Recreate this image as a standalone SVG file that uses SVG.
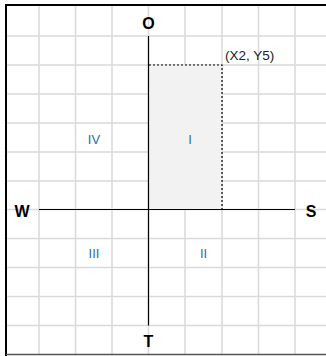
<svg xmlns="http://www.w3.org/2000/svg" width="326" height="356" viewBox="0 0 326 356">
<style>
.grid line{stroke:#d9d9d9;stroke-width:1.5}
.axis{stroke:#000;stroke-width:1.2}
.dot{stroke:#000;stroke-width:1.2;stroke-dasharray:2 2;fill:none}
.lbl{font-family:"Liberation Sans",Arial,sans-serif;font-weight:bold;font-size:16px;fill:#000;text-anchor:middle}
.q{font-family:"Liberation Sans",Arial,sans-serif;font-size:13px;fill:#2e6da4;text-anchor:middle}
.pt{font-family:"Liberation Sans",Arial,sans-serif;font-size:13.5px;fill:#222}
</style>
<rect x="0" y="0" width="326" height="356" fill="#fff"/>
<g class="grid">
<line x1="39" y1="6" x2="39" y2="354"/>
<line x1="75.5" y1="6" x2="75.5" y2="354"/>
<line x1="112" y1="6" x2="112" y2="354"/>
<line x1="148.5" y1="6" x2="148.5" y2="354"/>
<line x1="185" y1="6" x2="185" y2="354"/>
<line x1="222" y1="6" x2="222" y2="354"/>
<line x1="258.5" y1="6" x2="258.5" y2="354"/>
<line x1="295" y1="6" x2="295" y2="354"/>
<line x1="6" y1="36" x2="326" y2="36"/>
<line x1="6" y1="65" x2="326" y2="65"/>
<line x1="6" y1="94" x2="326" y2="94"/>
<line x1="6" y1="123" x2="326" y2="123"/>
<line x1="6" y1="152" x2="326" y2="152"/>
<line x1="6" y1="181" x2="326" y2="181"/>
<line x1="6" y1="209.5" x2="326" y2="209.5"/>
<line x1="6" y1="238.5" x2="326" y2="238.5"/>
<line x1="6" y1="267.5" x2="326" y2="267.5"/>
<line x1="6" y1="296.5" x2="326" y2="296.5"/>
<line x1="6" y1="325.5" x2="326" y2="325.5"/>
</g>
<g id="border">
<line x1="5" y1="5" x2="326" y2="5" stroke="#000" stroke-width="2"/>
<line x1="6" y1="4" x2="6" y2="356" stroke="#000" stroke-width="2"/>
<line x1="6" y1="354.5" x2="326" y2="354.5" stroke="#555" stroke-width="1.5"/>
</g>
<g id="region">
<rect x="149" y="65" width="73" height="144.5" fill="#f2f2f2"/>
<polyline class="dot" points="149,65 222,65 222,209"/>
</g>
<g id="connectors">
<line class="axis" x1="148.5" y1="36" x2="148.5" y2="325.5"/>
<line class="axis" x1="39" y1="209.5" x2="295" y2="209.5"/>
</g>
<g id="O"><text class="lbl" x="148.5" y="29">O</text></g>
<g id="T"><text class="lbl" x="148.5" y="347">T</text></g>
<g id="W"><text class="lbl" x="22" y="217">W</text></g>
<g id="S"><text class="lbl" x="311" y="217">S</text></g>
<g id="pt"><text class="pt" x="225" y="60">(X2, Y5)</text></g>
<g id="q1"><text class="q" x="190" y="144">I</text></g>
<g id="q2"><text class="q" x="203.5" y="258">II</text></g>
<g id="q3"><text class="q" x="94" y="258">III</text></g>
<g id="q4"><text class="q" x="94" y="144">IV</text></g>
</svg>
